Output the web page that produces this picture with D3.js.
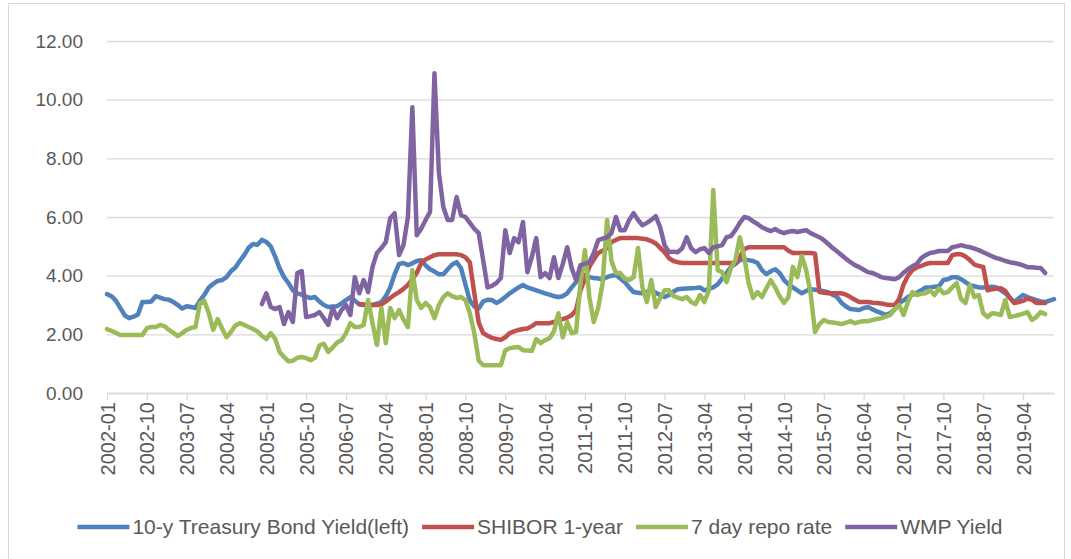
<!DOCTYPE html>
<html>
<head>
<meta charset="utf-8">
<script src="https://cdn.jsdelivr.net/npm/d3@7"></script>
<style>
  body { margin: 0; background: #fff; }
  svg { display: block; }
</style>
</head>
<body>
<svg id="chart" width="1071" height="559"></svg>
<script>
// monthly categories, 2002-01 .. 2019-11
const firstMonth = new Date(2002, 0, 1);
const monthCount = 215;
const labelEvery = 9;
const yTicks = [0, 2, 4, 6, 8, 10, 12];

const seriesNames = ["10-y Treasury Bond Yield(left)", "SHIBOR 1-year", "7 day repo rate", "WMP Yield"];
const seriesColors = ["#4F81BD", "#C0504D", "#9BBB59", "#8064A2"];

// 10-y treasury, from 2002-01
const treasury = [
  3.37, 3.30, 3.15, 2.90, 2.65, 2.55, 2.60, 2.68, 3.10, 3.10,
  3.12, 3.30, 3.25, 3.20, 3.18, 3.10, 3.00, 2.88, 2.96, 2.93,
  2.90, 3.15, 3.35, 3.60, 3.72, 3.82, 3.85, 3.95, 4.15, 4.28,
  4.50, 4.70, 4.95, 5.08, 5.05, 5.22, 5.15, 5.00, 4.65, 4.25,
  3.95, 3.75, 3.50, 3.40, 3.35, 3.28, 3.24, 3.27, 3.12, 3.00,
  2.93, 2.95, 2.96, 3.05, 3.17, 3.27, 3.15, 3.02, 3.00, 3.00,
  3.00, 3.05, 3.10, 3.30, 3.60, 4.05, 4.40, 4.43, 4.36, 4.42,
  4.50, 4.53, 4.35, 4.22, 4.14, 4.05, 4.05, 4.22, 4.38, 4.46,
  4.26, 3.70, 3.15, 2.95, 2.88, 3.12, 3.18, 3.17, 3.07, 3.15,
  3.27, 3.40, 3.50, 3.60, 3.68, 3.60, 3.55, 3.50, 3.45, 3.40,
  3.35, 3.30, 3.27, 3.30, 3.40, 3.60, 3.78, 3.98, 4.02, 3.95,
  3.92, 3.90, 3.88, 3.95, 4.00, 4.02, 3.90, 3.78, 3.60, 3.44,
  3.42, 3.40, 3.45, 3.50, 3.42, 3.34, 3.27, 3.34, 3.45, 3.54,
  3.55, 3.56, 3.57, 3.58, 3.60, 3.50, 3.55, 3.60, 3.70, 3.90,
  4.09, 4.30, 4.40, 4.53, 4.55, 4.53, 4.50, 4.43, 4.19, 4.05,
  4.15, 4.22, 4.09, 3.85, 3.70, 3.60, 3.50, 3.40, 3.48, 3.54,
  3.52, 3.50, 3.47, 3.44, 3.35, 3.27, 3.07, 2.95, 2.86, 2.85,
  2.83, 2.90, 2.93, 2.85, 2.78, 2.72, 2.66, 2.72, 2.85, 3.07,
  3.15, 3.27, 3.35, 3.42, 3.50, 3.60, 3.60, 3.62, 3.64, 3.85,
  3.88, 3.95, 3.95, 3.88, 3.78, 3.68, 3.64, 3.60, 3.60, 3.60,
  3.62, 3.60, 3.50, 3.40, 3.25, 3.10, 3.22, 3.34, 3.27, 3.22,
  3.17, 3.12, 3.10, 3.15, 3.20
];

// SHIBOR 1-year, from 2006-10
const shiborStart = 57;
const shibor = [
  3.03, 3.02, 3.00,
  3.00, 3.00, 3.02, 3.12, 3.24, 3.35, 3.44, 3.55, 3.68, 3.88,
  4.09, 4.43, 4.55, 4.63, 4.70, 4.73, 4.73, 4.73, 4.73, 4.73,
  4.70, 4.63, 4.45, 3.40, 2.40, 2.04, 1.95, 1.88, 1.84, 1.81,
  1.90, 2.04, 2.10, 2.15, 2.18, 2.20, 2.28, 2.38, 2.38, 2.38,
  2.38, 2.42, 2.49, 2.52, 2.57, 2.65, 2.83, 3.50, 3.90, 4.30,
  4.55, 4.77, 4.85, 4.94, 5.14, 5.22, 5.28, 5.28, 5.28, 5.28,
  5.28, 5.26, 5.24, 5.18, 5.10, 4.95, 4.80, 4.60, 4.50, 4.46,
  4.43, 4.43, 4.43, 4.43, 4.43, 4.43, 4.43, 4.43, 4.43, 4.43,
  4.43, 4.43, 4.43, 4.63, 4.90, 4.97, 4.97, 4.97, 4.97, 4.97,
  4.97, 4.97, 4.97, 4.97, 4.85, 4.77, 4.77, 4.77, 4.77, 4.77,
  4.75, 3.44, 3.42, 3.40, 3.40, 3.40, 3.40, 3.35, 3.27, 3.18,
  3.10, 3.10, 3.10, 3.08, 3.07, 3.05, 3.02, 3.00, 3.00, 3.20,
  3.70, 4.00, 4.19, 4.28, 4.33, 4.40, 4.43, 4.43, 4.43, 4.43,
  4.43, 4.70, 4.73, 4.73, 4.65, 4.53, 4.38, 4.33, 4.30, 3.50,
  3.54, 3.55, 3.57, 3.48, 3.25, 3.07, 3.10, 3.14, 3.22, 3.18,
  3.07, 3.07, 3.07
];

// 7 day repo, from 2002-01
const repo = [
  2.18, 2.12, 2.05, 1.98, 1.98, 1.98, 1.98, 1.98, 1.98, 2.21,
  2.25, 2.25, 2.32, 2.28, 2.15, 2.05, 1.94, 2.04, 2.15, 2.22,
  2.25, 3.07, 3.14, 2.72, 2.15, 2.52, 2.20, 1.90, 2.08, 2.30,
  2.38, 2.32, 2.25, 2.18, 2.10, 1.95, 1.84, 2.04, 1.85, 1.40,
  1.23, 1.08, 1.10, 1.20, 1.23, 1.19, 1.12, 1.20, 1.62, 1.68,
  1.40, 1.55, 1.72, 1.80, 2.04, 2.38, 2.25, 2.25, 2.32, 3.17,
  2.38, 1.64, 2.90, 1.70, 2.90, 2.55, 2.83, 2.50, 2.25, 4.19,
  3.17, 2.90, 3.07, 2.93, 2.55, 3.00, 3.27, 3.40, 3.30, 3.24,
  3.27, 3.17, 2.72, 2.04, 1.10, 0.95, 0.95, 0.95, 0.95, 0.95,
  1.45, 1.53, 1.55, 1.57, 1.46, 1.45, 1.43, 1.84, 1.70, 1.80,
  1.87, 2.10, 2.72, 1.90, 2.42, 2.04, 2.08, 3.75, 4.87, 3.27,
  2.42, 2.90, 3.75, 5.90, 4.50, 4.09, 4.09, 3.90, 3.85, 3.95,
  4.94, 3.60, 3.10, 3.85, 2.93, 3.24, 3.50, 3.50, 3.30, 3.25,
  3.20, 3.27, 3.10, 3.03, 3.34, 3.10, 3.50, 6.92, 4.19, 4.12,
  3.78, 4.26, 4.53, 5.31, 4.63, 3.75, 3.24, 3.44, 3.27, 3.57,
  3.85, 3.60, 3.30, 3.07, 3.27, 4.30, 3.95, 4.67, 4.19, 3.40,
  2.08, 2.35, 2.49, 2.42, 2.40, 2.38, 2.35, 2.40, 2.45, 2.38,
  2.42, 2.45, 2.45, 2.49, 2.52, 2.55, 2.60, 2.66, 2.85, 3.00,
  2.66, 3.10, 3.44, 3.34, 3.38, 3.40, 3.50, 3.34, 3.57, 3.40,
  3.44, 3.60, 3.75, 3.20, 3.07, 3.68, 3.27, 3.34, 2.72, 2.59,
  2.72, 2.70, 2.66, 3.17, 2.59, 2.62, 2.66, 2.70, 2.76, 2.49,
  2.59, 2.76, 2.69
];

// WMP yield, from 2004-12
const wmpStart = 35;
const wmp = [
  3.03, 3.40, 2.93, 2.86, 2.93,
  2.35, 2.76, 2.42, 4.09, 4.16, 2.59, 2.62, 2.66, 2.76, 2.55,
  2.32, 2.90, 2.55, 2.83, 3.00, 2.66, 3.95, 3.40, 3.85, 3.44,
  4.30, 4.77, 4.94, 5.14, 5.96, 6.13, 4.70, 5.04, 6.00, 9.74,
  5.38, 5.60, 5.90, 6.17, 10.90, 7.50, 6.34, 5.90, 5.90, 6.68,
  6.06, 6.00, 5.80, 5.60, 5.45, 4.53, 3.60, 3.65, 3.75, 3.92,
  5.55, 4.77, 5.28, 5.14, 5.83, 4.12, 4.63, 5.28, 3.95, 4.09,
  3.92, 4.63, 3.92, 4.40, 4.97, 4.26, 3.85, 4.36, 4.40, 4.46,
  4.77, 5.21, 5.26, 5.31, 5.45, 6.00, 5.55, 5.55, 5.90, 6.13,
  5.90, 5.72, 5.80, 5.90, 6.03, 5.65, 5.04, 4.80, 4.82, 4.80,
  4.94, 5.31, 4.94, 4.80, 4.90, 4.94, 4.77, 4.97, 5.00, 5.04,
  5.31, 5.35, 5.55, 5.80, 6.00, 5.96, 5.85, 5.76, 5.65, 5.58,
  5.52, 5.59, 5.50, 5.45, 5.50, 5.52, 5.49, 5.52, 5.55, 5.45,
  5.38, 5.31, 5.21, 5.08, 4.94, 4.82, 4.70, 4.58, 4.46, 4.36,
  4.29, 4.20, 4.12, 4.09, 4.02, 3.95, 3.92, 3.90, 3.88, 3.95,
  4.10, 4.22, 4.32, 4.40, 4.60, 4.70, 4.77, 4.80, 4.84, 4.84,
  4.84, 4.97, 5.00, 5.04, 5.00, 4.97, 4.92, 4.87, 4.80, 4.73,
  4.66, 4.60, 4.56, 4.50, 4.46, 4.43, 4.40, 4.35, 4.29, 4.29,
  4.27, 4.26, 4.09
];

const fmtMonth = d3.timeFormat("%Y-%m");
const months = d3.timeMonth.range(firstMonth, d3.timeMonth.offset(firstMonth, monthCount)).map(fmtMonth);

const svg = d3.select("#chart");
const font = "'Liberation Sans', Arial, sans-serif";
const textColor = "#595959";
const gridColor = "#D9D9D9";

const plot = { left: 107, right: 1054, top: 41, bottom: 393 };

// chart frame
svg.append("rect")
  .attr("x", 8.5).attr("y", 3.5)
  .attr("width", 1056).attr("height", 570)
  .attr("fill", "none").attr("stroke", gridColor);

const x = d3.scalePoint().domain(months).range([plot.left, plot.right]);
const y = d3.scaleLinear().domain([0, 12]).range([plot.bottom, plot.top]);

// y gridlines + labels
const yAxis = svg.append("g")
  .attr("transform", `translate(${plot.left},0)`)
  .call(d3.axisLeft(y).tickValues(yTicks).tickFormat(d3.format(".2f"))
    .tickSize(-(plot.right - plot.left)).tickPadding(24));
yAxis.select(".domain").remove();
yAxis.selectAll(".tick line").attr("stroke", gridColor).attr("stroke-width", 1.3);
yAxis.selectAll(".tick text")
  .attr("fill", textColor).style("font-family", font).style("font-size", "19px");

// x axis with rotated month labels
const tickMonths = months.filter((m, i) => i % labelEvery === 0);
const xAxis = svg.append("g")
  .attr("transform", `translate(0,${plot.bottom})`)
  .call(d3.axisBottom(x).tickValues(tickMonths).tickSizeInner(7).tickSizeOuter(0));
xAxis.select(".domain").attr("stroke", gridColor).attr("stroke-width", 1.3);
xAxis.selectAll(".tick line").attr("stroke", gridColor).attr("stroke-width", 1.3);
xAxis.selectAll(".tick text")
  .attr("transform", "rotate(-90)")
  .attr("text-anchor", "end")
  .attr("x", -9).attr("y", 0).attr("dy", "0.35em")
  .attr("fill", textColor).style("font-family", font).style("font-size", "20px");

// series
const series = [
  { values: treasury, start: 0 },
  { values: shibor, start: shiborStart },
  { values: repo, start: 0 },
  { values: wmp, start: wmpStart }
];

const line = d3.line()
  .x(d => x(months[d.i]))
  .y(d => y(d.v));

series.forEach((s, k) => {
  const pts = s.values.map((v, j) => ({ i: s.start + j, v }));
  svg.append("path")
    .datum(pts)
    .attr("d", line)
    .attr("fill", "none")
    .attr("stroke", seriesColors[k])
    .attr("stroke-width", 4.5)
    .attr("stroke-linejoin", "round")
    .attr("stroke-linecap", "round");
});

// legend, centred under the plot
const legend = svg.append("g").attr("transform", "translate(0,527)");
const items = legend.selectAll("g").data(seriesNames).join("g");
items.append("line")
  .attr("x1", 0).attr("x2", 52).attr("y1", 0).attr("y2", 0)
  .attr("stroke", (d, i) => seriesColors[i]).attr("stroke-width", 4.5);
items.append("text")
  .attr("x", 55).attr("y", 0).attr("dy", "0.35em")
  .attr("fill", textColor).style("font-family", font).style("font-size", "21px")
  .text(d => d);
let widths = [];
items.each(function () { widths.push(55 + this.querySelector("text").getComputedTextLength()); });
const gap = 13;
const total = d3.sum(widths) + gap * (widths.length - 1);
let cx = 540 - total / 2;
items.attr("transform", (d, i) => {
  const t = `translate(${cx},0)`;
  cx += widths[i] + gap;
  return t;
});
</script>
</body>
</html>
